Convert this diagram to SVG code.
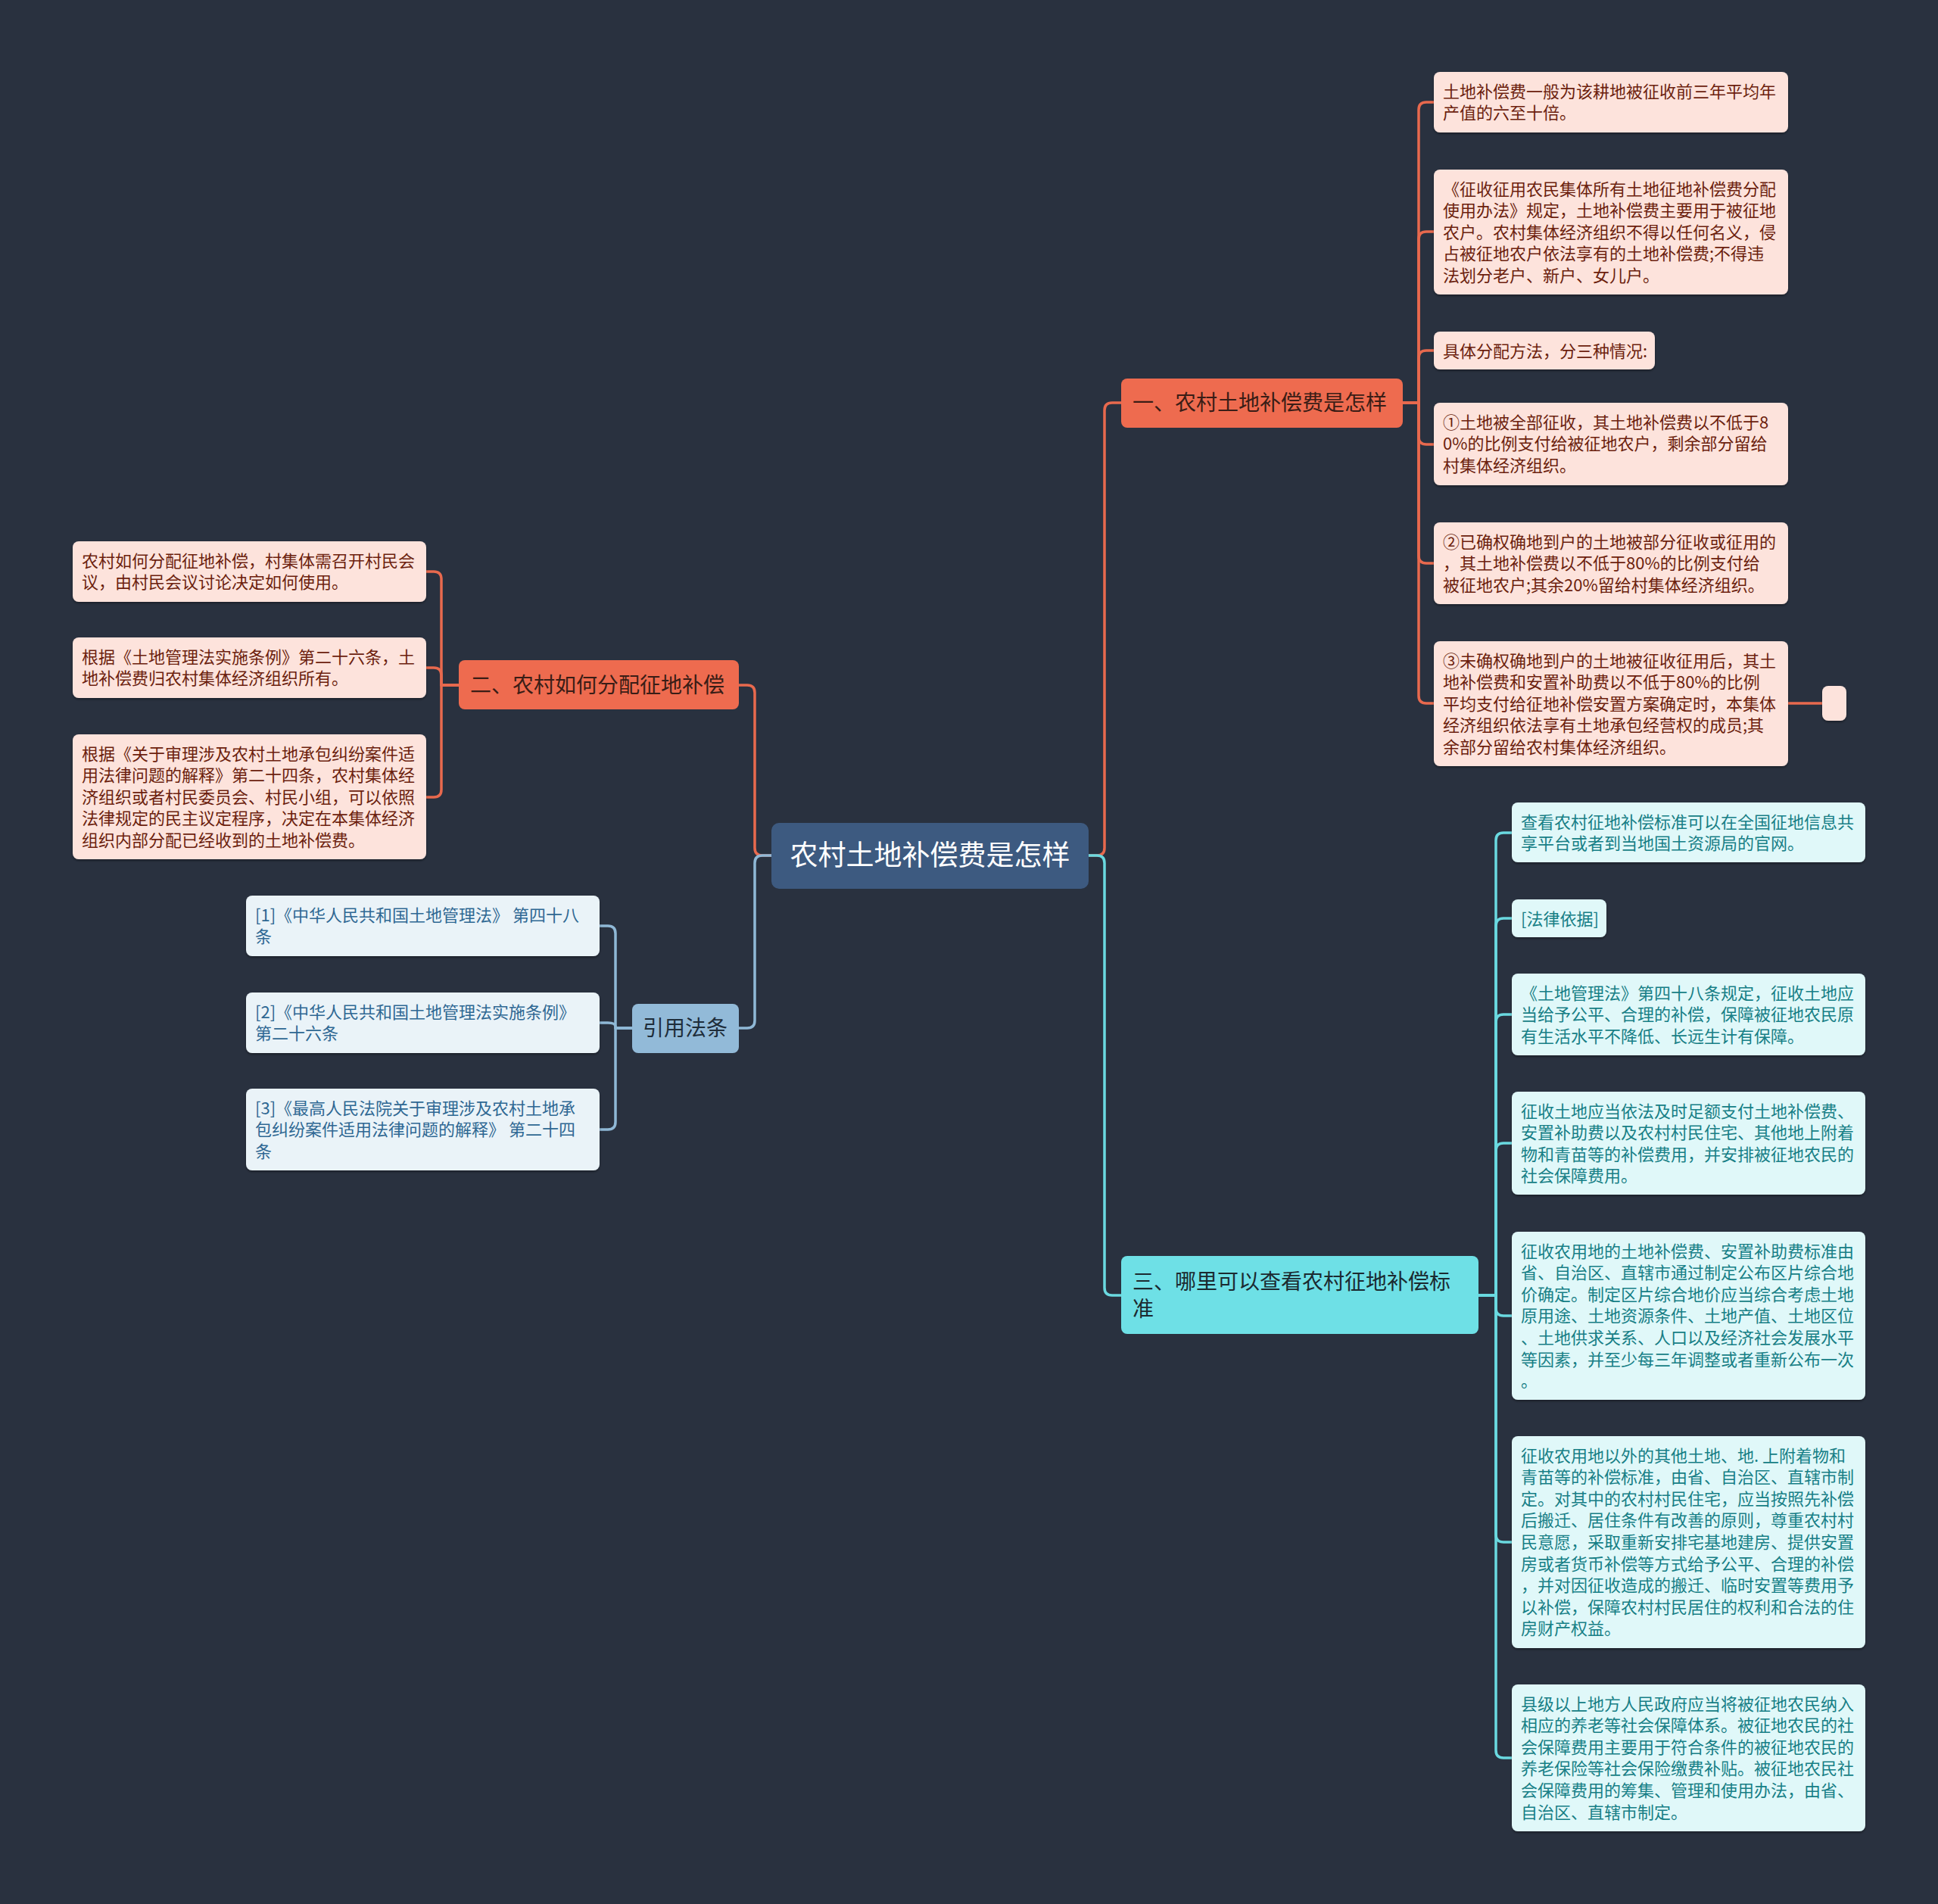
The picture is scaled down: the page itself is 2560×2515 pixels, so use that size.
<svg xmlns="http://www.w3.org/2000/svg" width="2560" height="2515" viewBox="0 0 2560 2515">
<defs>
<filter id="sh" x="-5%" y="-5%" width="110%" height="120%"><feDropShadow dx="0" dy="2" stdDeviation="1.5" flood-color="#000" flood-opacity="0.35"/></filter>
<style>
text{font-family:"Noto Sans CJK SC","Noto Sans",sans-serif;}
.e{fill:none;stroke-width:3.5;stroke-linecap:round;stroke-linejoin:round;}
.e-o{stroke:#e8694e;}
.e-b{stroke:#8fb8d6;}
.e-y{stroke:#6ad9e0;}
.n-c{fill:#3d5a80;}
.t-c{fill:#ffffff;font-size:37px;}
.n-o{fill:#ee6b4f;}
.t-o{fill:#3a1d16;font-size:28px;}
.l-o{fill:#fde3dc;filter:url(#sh);}
.tl-o{fill:#6c1f0e;font-size:22px;}
.n-b{fill:#92bad8;}
.t-b{fill:#1e2d3a;font-size:28px;}
.l-b{fill:#eaf3f8;filter:url(#sh);}
.tl-b{fill:#2f6893;font-size:22px;}
.n-y{fill:#6ee0e6;}
.t-y{fill:#1b2a30;font-size:28px;}
.l-y{fill:#e0f8f9;filter:url(#sh);}
.tl-y{fill:#177f86;font-size:22px;}
</style>
</defs>
<rect x="0" y="0" width="2560" height="2515" fill="#29313f"/>

<g id="connectors">
<path class="e e-o" d="M1438,1130 H1449 Q1459,1130 1459,1120 V542 Q1459,532 1469,532 H1481"/>
<path class="e e-y" d="M1438,1130 H1449 Q1459,1130 1459,1140 V1701 Q1459,1711 1469,1711 H1481"/>
<path class="e e-o" d="M1019,1130 H1007 Q997,1130 997,1120 V915 Q997,905 987,905 H976"/>
<path class="e e-b" d="M1019,1130 H1007 Q997,1130 997,1140 V1348 Q997,1358 987,1358 H976"/>

<path class="e e-o" d="M1853,532 H1874 V145 Q1874,135 1884,135 H1894"/>
<path class="e e-o" d="M1853,532 H1874 V316 Q1874,306 1884,306 H1894"/>
<path class="e e-o" d="M1853,532 H1874 V473 Q1874,463 1884,463 H1894"/>
<path class="e e-o" d="M1853,532 H1874 V577 Q1874,587 1884,587 H1894"/>
<path class="e e-o" d="M1853,532 H1874 V734 Q1874,744 1884,744 H1894"/>
<path class="e e-o" d="M1853,532 H1874 V919 Q1874,929 1884,929 H1894"/>
<path class="e e-o" d="M2362,929 H2407"/>

<path class="e e-o" d="M606,905 H583 V765 Q583,755 573,755 H563"/>
<path class="e e-o" d="M606,905 H583 V892 Q583,882 573,882 H563"/>
<path class="e e-o" d="M606,905 H583 V1043 Q583,1053 573,1053 H563"/>

<path class="e e-b" d="M835,1358 H813 V1233 Q813,1223 803,1223 H792"/>
<path class="e e-b" d="M835,1358 H813 V1356 Q813,1351 803,1351 H792"/>
<path class="e e-b" d="M835,1358 H813 V1482 Q813,1492 803,1492 H792"/>

<path class="e e-y" d="M1953,1711 H1976 V1110 Q1976,1100 1986,1100 H1997"/>
<path class="e e-y" d="M1953,1711 H1976 V1223 Q1976,1213 1986,1213 H1997"/>
<path class="e e-y" d="M1953,1711 H1976 V1350 Q1976,1340 1986,1340 H1997"/>
<path class="e e-y" d="M1953,1711 H1976 V1520 Q1976,1510 1986,1510 H1997"/>
<path class="e e-y" d="M1953,1711 H1976 V1728 Q1976,1738 1986,1738 H1997"/>
<path class="e e-y" d="M1953,1711 H1976 V2027 Q1976,2037 1986,2037 H1997"/>
<path class="e e-y" d="M1953,1711 H1976 V2312 Q1976,2322 1986,2322 H1997"/>
</g>

<g id="root">
<rect class="n-c" x="1019" y="1087" width="419" height="87" rx="10"/>
<text class="t-c" x="1228.5" y="1143" text-anchor="middle">农村土地补偿费是怎样</text>
</g>

<g id="b1">
<rect class="n-o" x="1481" y="500" width="372" height="65" rx="8"/>
<text class="t-o" x="1496" y="542">一、农村土地补偿费是怎样</text>
</g>
<g id="b2">
<rect class="n-o" x="606" y="872" width="370" height="65" rx="8"/>
<text class="t-o" x="621" y="915">二、农村如何分配征地补偿</text>
</g>
<g id="b3">
<rect class="n-b" x="835" y="1326" width="141" height="65" rx="8"/>
<text class="t-b" x="849" y="1368">引用法条</text>
</g>
<g id="b4">
<rect class="n-y" x="1481" y="1659" width="472" height="103" rx="8"/>
<text class="t-y" x="1496" y="1703">三、哪里可以查看农村征地补偿标<tspan x="1496" dy="36">准</tspan></text>
</g>

<g id="r1">
<rect class="l-o" x="1894" y="95" width="468" height="80" rx="8"/>
<text class="tl-o" x="1906" y="128.5">土地补偿费一般为该耕地被征收前三年平均年<tspan x="1906" dy="28.6">产值的六至十倍。</tspan></text>
</g>
<g id="r2">
<rect class="l-o" x="1894" y="224" width="468" height="165" rx="8"/>
<text class="tl-o" x="1906" y="257.5">《征收征用农民集体所有土地征地补偿费分配<tspan x="1906" dy="28.6">使用办法》规定，土地补偿费主要用于被征地</tspan><tspan x="1906" dy="28.6">农户。农村集体经济组织不得以任何名义，侵</tspan><tspan x="1906" dy="28.6">占被征地农户依法享有的土地补偿费;不得违</tspan><tspan x="1906" dy="28.6">法划分老户、新户、女儿户。</tspan></text>
</g>
<g id="r3">
<rect class="l-o" x="1894" y="438" width="292" height="50" rx="8"/>
<text class="tl-o" x="1906" y="471.5">具体分配方法，分三种情况:</text>
</g>
<g id="r4">
<rect class="l-o" x="1894" y="532" width="468" height="109" rx="8"/>
<text class="tl-o" x="1906" y="565.5">①土地被全部征收，其土地补偿费以不低于8<tspan x="1906" dy="28.6">0%的比例支付给被征地农户，剩余部分留给</tspan><tspan x="1906" dy="28.6">村集体经济组织。</tspan></text>
</g>
<g id="r5">
<rect class="l-o" x="1894" y="690" width="468" height="108" rx="8"/>
<text class="tl-o" x="1906" y="723.5">②已确权确地到户的土地被部分征收或征用的<tspan x="1906" dy="28.6">，其土地补偿费以不低于80%的比例支付给</tspan><tspan x="1906" dy="28.6">被征地农户;其余20%留给村集体经济组织。</tspan></text>
</g>
<g id="r6">
<rect class="l-o" x="1894" y="847" width="468" height="165" rx="8"/>
<text class="tl-o" x="1906" y="880.5">③未确权确地到户的土地被征收征用后，其土<tspan x="1906" dy="28.6">地补偿费和安置补助费以不低于80%的比例</tspan><tspan x="1906" dy="28.6">平均支付给征地补偿安置方案确定时，本集体</tspan><tspan x="1906" dy="28.6">经济组织依法享有土地承包经营权的成员;其</tspan><tspan x="1906" dy="28.6">余部分留给农村集体经济组织。</tspan></text>
</g>
<g id="r6a">
<rect class="l-o" x="2407" y="906" width="32" height="46" rx="8"/>
</g>

<g id="l1">
<rect class="l-o" x="96" y="715" width="467" height="80" rx="8"/>
<text class="tl-o" x="108" y="748.5">农村如何分配征地补偿，村集体需召开村民会<tspan x="108" dy="28.6">议，由村民会议讨论决定如何使用。</tspan></text>
</g>
<g id="l2">
<rect class="l-o" x="96" y="842" width="467" height="80" rx="8"/>
<text class="tl-o" x="108" y="875.5">根据《土地管理法实施条例》第二十六条，土<tspan x="108" dy="28.6">地补偿费归农村集体经济组织所有。</tspan></text>
</g>
<g id="l3">
<rect class="l-o" x="96" y="970" width="467" height="165" rx="8"/>
<text class="tl-o" x="108" y="1003.5">根据《关于审理涉及农村土地承包纠纷案件适<tspan x="108" dy="28.6">用法律问题的解释》第二十四条，农村集体经</tspan><tspan x="108" dy="28.6">济组织或者村民委员会、村民小组，可以依照</tspan><tspan x="108" dy="28.6">法律规定的民主议定程序，决定在本集体经济</tspan><tspan x="108" dy="28.6">组织内部分配已经收到的土地补偿费。</tspan></text>
</g>

<g id="c1">
<rect class="l-b" x="325" y="1183" width="467" height="80" rx="8"/>
<text class="tl-b" x="337" y="1216.5">[1]《中华人民共和国土地管理法》 第四十八<tspan x="337" dy="28.6">条</tspan></text>
</g>
<g id="c2">
<rect class="l-b" x="325" y="1311" width="467" height="80" rx="8"/>
<text class="tl-b" x="337" y="1344.5">[2]《中华人民共和国土地管理法实施条例》<tspan x="337" dy="28.6">第二十六条</tspan></text>
</g>
<g id="c3">
<rect class="l-b" x="325" y="1438" width="467" height="108" rx="8"/>
<text class="tl-b" x="337" y="1471.5">[3]《最高人民法院关于审理涉及农村土地承<tspan x="337" dy="28.6">包纠纷案件适用法律问题的解释》 第二十四</tspan><tspan x="337" dy="28.6">条</tspan></text>
</g>

<g id="y1">
<rect class="l-y" x="1997" y="1060" width="467" height="79" rx="8"/>
<text class="tl-y" x="2009" y="1093.5">查看农村征地补偿标准可以在全国征地信息共<tspan x="2009" dy="28.6">享平台或者到当地国土资源局的官网。</tspan></text>
</g>
<g id="y2">
<rect class="l-y" x="1997" y="1188" width="125" height="50" rx="8"/>
<text class="tl-y" x="2009" y="1221.5">[法律依据]</text>
</g>
<g id="y3">
<rect class="l-y" x="1997" y="1286" width="467" height="108" rx="8"/>
<text class="tl-y" x="2009" y="1319.5">《土地管理法》第四十八条规定，征收土地应<tspan x="2009" dy="28.6">当给予公平、合理的补偿，保障被征地农民原</tspan><tspan x="2009" dy="28.6">有生活水平不降低、长远生计有保障。</tspan></text>
</g>
<g id="y4">
<rect class="l-y" x="1997" y="1442" width="467" height="136" rx="8"/>
<text class="tl-y" x="2009" y="1475.5">征收土地应当依法及时足额支付土地补偿费、<tspan x="2009" dy="28.6">安置补助费以及农村村民住宅、其他地上附着</tspan><tspan x="2009" dy="28.6">物和青苗等的补偿费用，并安排被征地农民的</tspan><tspan x="2009" dy="28.6">社会保障费用。</tspan></text>
</g>
<g id="y5">
<rect class="l-y" x="1997" y="1627" width="467" height="222" rx="8"/>
<text class="tl-y" x="2009" y="1660.5">征收农用地的土地补偿费、安置补助费标准由<tspan x="2009" dy="28.6">省、自治区、直辖市通过制定公布区片综合地</tspan><tspan x="2009" dy="28.6">价确定。制定区片综合地价应当综合考虑土地</tspan><tspan x="2009" dy="28.6">原用途、土地资源条件、土地产值、土地区位</tspan><tspan x="2009" dy="28.6">、土地供求关系、人口以及经济社会发展水平</tspan><tspan x="2009" dy="28.6">等因素，并至少每三年调整或者重新公布一次</tspan><tspan x="2009" dy="28.6">。</tspan></text>
</g>
<g id="y6">
<rect class="l-y" x="1997" y="1897" width="467" height="280" rx="8"/>
<text class="tl-y" x="2009" y="1930.5">征收农用地以外的其他土地、地. 上附着物和<tspan x="2009" dy="28.6">青苗等的补偿标准，由省、自治区、直辖市制</tspan><tspan x="2009" dy="28.6">定。对其中的农村村民住宅，应当按照先补偿</tspan><tspan x="2009" dy="28.6">后搬迁、居住条件有改善的原则，尊重农村村</tspan><tspan x="2009" dy="28.6">民意愿，采取重新安排宅基地建房、提供安置</tspan><tspan x="2009" dy="28.6">房或者货币补偿等方式给予公平、合理的补偿</tspan><tspan x="2009" dy="28.6">，并对因征收造成的搬迁、临时安置等费用予</tspan><tspan x="2009" dy="28.6">以补偿，保障农村村民居住的权利和合法的住</tspan><tspan x="2009" dy="28.6">房财产权益。</tspan></text>
</g>
<g id="y7">
<rect class="l-y" x="1997" y="2225" width="467" height="194" rx="8"/>
<text class="tl-y" x="2009" y="2258.5">县级以上地方人民政府应当将被征地农民纳入<tspan x="2009" dy="28.6">相应的养老等社会保障体系。被征地农民的社</tspan><tspan x="2009" dy="28.6">会保障费用主要用于符合条件的被征地农民的</tspan><tspan x="2009" dy="28.6">养老保险等社会保险缴费补贴。被征地农民社</tspan><tspan x="2009" dy="28.6">会保障费用的筹集、管理和使用办法，由省、</tspan><tspan x="2009" dy="28.6">自治区、直辖市制定。</tspan></text>
</g>
</svg>
